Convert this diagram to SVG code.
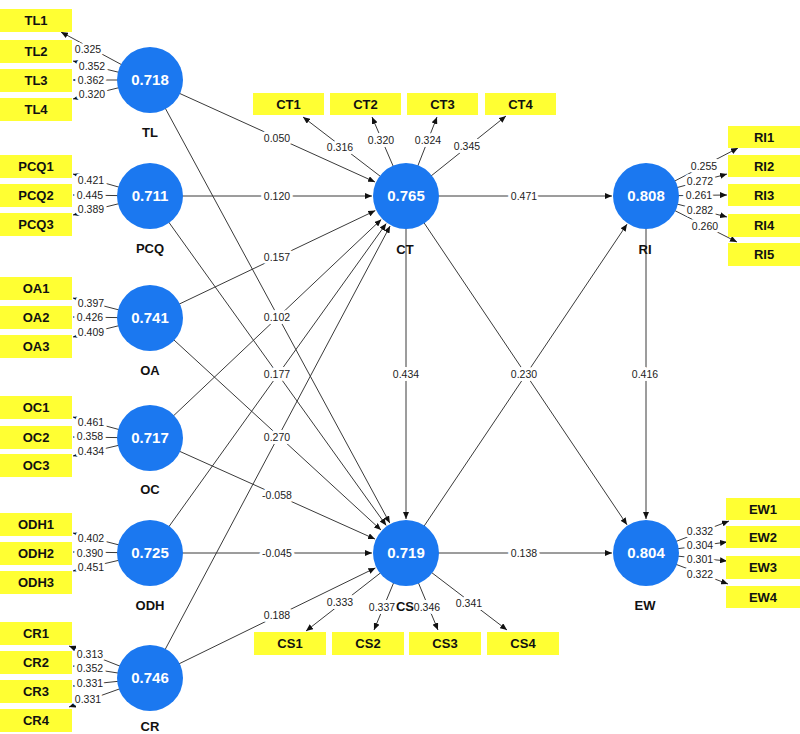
<svg xmlns="http://www.w3.org/2000/svg" width="800" height="734" viewBox="0 0 800 734">
<style>
.bg{fill:#fff}
.ln{stroke:#3a3a3a;stroke-width:1;fill:none;marker-end:url(#ah)}
.lbl{font-family:"Liberation Sans",Arial,sans-serif;font-size:10.5px;fill:#222;text-anchor:middle;stroke:#fff;stroke-width:6;stroke-linejoin:round;paint-order:stroke}
.box{fill:#FFFF33}
.bt{font-family:"Liberation Sans",Arial,sans-serif;font-size:13px;font-weight:bold;fill:#111;text-anchor:middle}
.lv{fill:#1B78F0}
.lvt{font-family:"Liberation Sans",Arial,sans-serif;font-size:15px;font-weight:bold;fill:#fff;text-anchor:middle}
.nm{font-family:"Liberation Sans",Arial,sans-serif;font-size:13px;font-weight:bold;fill:#111;text-anchor:middle}
</style>
<defs>
<marker id="ah" markerWidth="7" markerHeight="6" refX="7" refY="3" orient="auto" markerUnits="userSpaceOnUse"><path d="M0,0 L7,3 L0,6 z" fill="#111"/></marker>
</defs>
<rect class="bg" x="0" y="0" width="800" height="734"/>
<g id="connectors">
<!-- outer loadings -->
<line class="ln" x1="150" y1="80" x2="61" y2="32"/>
<line class="ln" x1="150" y1="80" x2="73" y2="61"/>
<line class="ln" x1="150" y1="80" x2="73" y2="80"/>
<line class="ln" x1="150" y1="80" x2="73" y2="99"/>
<line class="ln" x1="150" y1="196" x2="73" y2="174"/>
<line class="ln" x1="150" y1="196" x2="73" y2="195"/>
<line class="ln" x1="150" y1="196" x2="73" y2="215"/>
<line class="ln" x1="150" y1="318" x2="73" y2="298"/>
<line class="ln" x1="150" y1="318" x2="73" y2="317"/>
<line class="ln" x1="150" y1="318" x2="73" y2="337"/>
<line class="ln" x1="150" y1="438" x2="73" y2="417"/>
<line class="ln" x1="150" y1="438" x2="73" y2="437"/>
<line class="ln" x1="150" y1="438" x2="73" y2="456"/>
<line class="ln" x1="150" y1="553" x2="73" y2="533"/>
<line class="ln" x1="150" y1="553" x2="73" y2="552"/>
<line class="ln" x1="150" y1="553" x2="73" y2="571"/>
<line class="ln" x1="150" y1="678" x2="69" y2="646"/>
<line class="ln" x1="150" y1="678" x2="73" y2="666"/>
<line class="ln" x1="150" y1="678" x2="73" y2="686"/>
<line class="ln" x1="150" y1="678" x2="69" y2="707"/>
<line class="ln" x1="406" y1="196" x2="303" y2="117"/>
<line class="ln" x1="406" y1="196" x2="372" y2="117"/>
<line class="ln" x1="406" y1="196" x2="437" y2="117"/>
<line class="ln" x1="406" y1="196" x2="506" y2="116"/>
<line class="ln" x1="646" y1="196" x2="738" y2="148"/>
<line class="ln" x1="646" y1="196" x2="727" y2="174"/>
<line class="ln" x1="646" y1="196" x2="727" y2="195"/>
<line class="ln" x1="646" y1="196" x2="727" y2="217"/>
<line class="ln" x1="646" y1="196" x2="737" y2="242"/>
<line class="ln" x1="646" y1="553" x2="729" y2="521"/>
<line class="ln" x1="646" y1="553" x2="727" y2="542"/>
<line class="ln" x1="646" y1="553" x2="727" y2="561"/>
<line class="ln" x1="646" y1="553" x2="728" y2="584"/>
<line class="ln" x1="406" y1="553" x2="306" y2="631"/>
<line class="ln" x1="406" y1="553" x2="374" y2="630"/>
<line class="ln" x1="406" y1="553" x2="438" y2="630"/>
<line class="ln" x1="406" y1="553" x2="507" y2="630"/>
<!-- structural paths -->
<line class="ln" x1="150" y1="80" x2="375" y2="182"/>
<line class="ln" x1="150" y1="196" x2="372" y2="196"/>
<line class="ln" x1="150" y1="318" x2="375.3" y2="210.6"/>
<line class="ln" x1="150" y1="438" x2="381.3" y2="219.4"/>
<line class="ln" x1="150" y1="553" x2="386.2" y2="223.6"/>
<line class="ln" x1="150" y1="678" x2="390.1" y2="226"/>
<line class="ln" x1="150" y1="80" x2="389.8" y2="523.1"/>
<line class="ln" x1="150" y1="196" x2="386.2" y2="525.4"/>
<line class="ln" x1="150" y1="318" x2="381" y2="530"/>
<line class="ln" x1="150" y1="438" x2="375" y2="539.1"/>
<line class="ln" x1="150" y1="553" x2="372" y2="553"/>
<line class="ln" x1="150" y1="678" x2="375.4" y2="567.9"/>
<line class="ln" x1="406" y1="196" x2="612" y2="196"/>
<line class="ln" x1="406" y1="196" x2="406" y2="519"/>
<line class="ln" x1="406" y1="196" x2="627" y2="524.8"/>
<line class="ln" x1="406" y1="553" x2="627" y2="224.2"/>
<line class="ln" x1="646" y1="196" x2="646" y2="519"/>
<line class="ln" x1="406" y1="553" x2="612" y2="553"/>
<!-- labels -->
<text class="lbl" x="88" y="52.5">0.325</text>
<text class="lbl" x="92" y="69.5">0.352</text>
<text class="lbl" x="91" y="83.5">0.362</text>
<text class="lbl" x="92" y="97.5">0.320</text>
<text class="lbl" x="91" y="183.5">0.421</text>
<text class="lbl" x="90" y="198.5">0.445</text>
<text class="lbl" x="91" y="212.5">0.389</text>
<text class="lbl" x="91" y="306.5">0.397</text>
<text class="lbl" x="90" y="320.5">0.426</text>
<text class="lbl" x="91" y="335.5">0.409</text>
<text class="lbl" x="91" y="425.5">0.461</text>
<text class="lbl" x="90" y="439.5">0.358</text>
<text class="lbl" x="91" y="454.5">0.434</text>
<text class="lbl" x="91" y="541.5">0.402</text>
<text class="lbl" x="90" y="556.5">0.390</text>
<text class="lbl" x="91" y="570.5">0.451</text>
<text class="lbl" x="90" y="657.5">0.313</text>
<text class="lbl" x="90" y="671.5">0.352</text>
<text class="lbl" x="90" y="686.5">0.331</text>
<text class="lbl" x="88" y="702.5">0.331</text>
<text class="lbl" x="340" y="150.5">0.316</text>
<text class="lbl" x="381" y="143.5">0.320</text>
<text class="lbl" x="428" y="143.5">0.324</text>
<text class="lbl" x="467" y="149.5">0.345</text>
<text class="lbl" x="704" y="169.5">0.255</text>
<text class="lbl" x="700" y="184.5">0.272</text>
<text class="lbl" x="699" y="198.5">0.261</text>
<text class="lbl" x="700" y="213.5">0.282</text>
<text class="lbl" x="705" y="229.5">0.260</text>
<text class="lbl" x="700" y="534.5">0.332</text>
<text class="lbl" x="700" y="548.5">0.304</text>
<text class="lbl" x="700" y="562.5">0.301</text>
<text class="lbl" x="700" y="577.5">0.322</text>
<text class="lbl" x="340" y="605.5">0.333</text>
<text class="lbl" x="382" y="610.5">0.337</text>
<text class="lbl" x="427" y="610.5">0.346</text>
<text class="lbl" x="469" y="606.5">0.341</text>
<text class="lbl" x="277" y="141.5">0.050</text>
<text class="lbl" x="277" y="199.5">0.120</text>
<text class="lbl" x="277" y="260.5">0.157</text>
<text class="lbl" x="277" y="320.5">0.102</text>
<text class="lbl" x="277" y="378">0.177</text>
<text class="lbl" x="277" y="440.5">0.270</text>
<text class="lbl" x="277" y="499">-0.058</text>
<text class="lbl" x="277" y="556.5">-0.045</text>
<text class="lbl" x="277" y="619">0.188</text>
<text class="lbl" x="524" y="199.5">0.471</text>
<text class="lbl" x="406" y="378">0.434</text>
<text class="lbl" x="524" y="378">0.230</text>
<text class="lbl" x="645" y="378">0.416</text>
<text class="lbl" x="524" y="556.5">0.138</text>
</g>
<!-- latent variables -->
<g id="TL"><circle class="lv" cx="150" cy="80" r="33"/><text class="lvt" x="150" y="85">0.718</text><text class="nm" x="150" y="137">TL</text></g>
<g id="PCQ"><circle class="lv" cx="150" cy="196" r="33"/><text class="lvt" x="150" y="201">0.711</text><text class="nm" x="150" y="253">PCQ</text></g>
<g id="OA"><circle class="lv" cx="150" cy="318" r="33"/><text class="lvt" x="150" y="323">0.741</text><text class="nm" x="150" y="375">OA</text></g>
<g id="OC"><circle class="lv" cx="150" cy="438" r="33"/><text class="lvt" x="150" y="443">0.717</text><text class="nm" x="150" y="494">OC</text></g>
<g id="ODH"><circle class="lv" cx="150" cy="553" r="33"/><text class="lvt" x="150" y="558">0.725</text><text class="nm" x="150" y="610">ODH</text></g>
<g id="CR"><circle class="lv" cx="150" cy="678" r="33"/><text class="lvt" x="150" y="683">0.746</text><text class="nm" x="150" y="731">CR</text></g>
<g id="CT"><circle class="lv" cx="406" cy="196" r="33"/><text class="lvt" x="406" y="201">0.765</text><text class="nm" x="405" y="254">CT</text></g>
<g id="CS"><circle class="lv" cx="406" cy="553" r="33"/><text class="lvt" x="406" y="558">0.719</text><text class="nm" x="405" y="611">CS</text></g>
<g id="RI"><circle class="lv" cx="646" cy="196" r="33"/><text class="lvt" x="646" y="201">0.808</text><text class="nm" x="645" y="254">RI</text></g>
<g id="EW"><circle class="lv" cx="646" cy="553" r="33"/><text class="lvt" x="646" y="558">0.804</text><text class="nm" x="645" y="610">EW</text></g>
<!-- indicators -->
<g id="TL1"><rect class="box" x="0" y="9" width="72" height="23"/><text class="bt" x="36" y="25">TL1</text></g>
<g id="TL2"><rect class="box" x="0" y="40" width="72" height="23"/><text class="bt" x="36" y="56">TL2</text></g>
<g id="TL3"><rect class="box" x="0" y="69" width="72" height="23"/><text class="bt" x="36" y="85">TL3</text></g>
<g id="TL4"><rect class="box" x="0" y="98" width="72" height="23"/><text class="bt" x="36" y="114">TL4</text></g>
<g id="PCQ1"><rect class="box" x="0" y="155" width="72" height="23"/><text class="bt" x="36" y="171">PCQ1</text></g>
<g id="PCQ2"><rect class="box" x="0" y="184" width="72" height="23"/><text class="bt" x="36" y="200">PCQ2</text></g>
<g id="PCQ3"><rect class="box" x="0" y="213" width="72" height="23"/><text class="bt" x="36" y="229">PCQ3</text></g>
<g id="OA1"><rect class="box" x="0" y="277" width="72" height="23"/><text class="bt" x="36" y="293">OA1</text></g>
<g id="OA2"><rect class="box" x="0" y="306" width="72" height="23"/><text class="bt" x="36" y="322">OA2</text></g>
<g id="OA3"><rect class="box" x="0" y="335" width="72" height="23"/><text class="bt" x="36" y="351">OA3</text></g>
<g id="OC1"><rect class="box" x="0" y="396" width="72" height="23"/><text class="bt" x="36" y="412">OC1</text></g>
<g id="OC2"><rect class="box" x="0" y="426" width="72" height="23"/><text class="bt" x="36" y="442">OC2</text></g>
<g id="OC3"><rect class="box" x="0" y="454" width="72" height="23"/><text class="bt" x="36" y="470">OC3</text></g>
<g id="ODH1"><rect class="box" x="0" y="513" width="72" height="23"/><text class="bt" x="36" y="529">ODH1</text></g>
<g id="ODH2"><rect class="box" x="0" y="542" width="72" height="23"/><text class="bt" x="36" y="558">ODH2</text></g>
<g id="ODH3"><rect class="box" x="0" y="571" width="72" height="23"/><text class="bt" x="36" y="587">ODH3</text></g>
<g id="CR1"><rect class="box" x="0" y="622" width="72" height="23"/><text class="bt" x="36" y="638">CR1</text></g>
<g id="CR2"><rect class="box" x="0" y="651" width="72" height="23"/><text class="bt" x="36" y="667">CR2</text></g>
<g id="CR3"><rect class="box" x="0" y="680" width="72" height="23"/><text class="bt" x="36" y="696">CR3</text></g>
<g id="CR4"><rect class="box" x="0" y="709" width="72" height="23"/><text class="bt" x="36" y="725">CR4</text></g>
<g id="CT1"><rect class="box" x="253" y="93" width="71" height="22"/><text class="bt" x="288.5" y="108.5">CT1</text></g>
<g id="CT2"><rect class="box" x="330" y="93" width="71" height="22"/><text class="bt" x="365.5" y="108.5">CT2</text></g>
<g id="CT3"><rect class="box" x="407" y="93" width="71" height="22"/><text class="bt" x="442.5" y="108.5">CT3</text></g>
<g id="CT4"><rect class="box" x="485" y="93" width="71" height="22"/><text class="bt" x="520.5" y="108.5">CT4</text></g>
<g id="CS1"><rect class="box" x="254" y="632" width="72" height="23"/><text class="bt" x="290" y="648">CS1</text></g>
<g id="CS2"><rect class="box" x="332" y="632" width="72" height="23"/><text class="bt" x="368" y="648">CS2</text></g>
<g id="CS3"><rect class="box" x="409" y="632" width="72" height="23"/><text class="bt" x="445" y="648">CS3</text></g>
<g id="CS4"><rect class="box" x="487" y="632" width="72" height="23"/><text class="bt" x="523" y="648">CS4</text></g>
<g id="RI1"><rect class="box" x="728" y="126" width="72" height="22"/><text class="bt" x="764" y="141.5">RI1</text></g>
<g id="RI2"><rect class="box" x="728" y="155" width="72" height="22"/><text class="bt" x="764" y="170.5">RI2</text></g>
<g id="RI3"><rect class="box" x="728" y="184" width="72" height="22"/><text class="bt" x="764" y="199.5">RI3</text></g>
<g id="RI4"><rect class="box" x="728" y="214" width="72" height="23"/><text class="bt" x="764" y="230">RI4</text></g>
<g id="RI5"><rect class="box" x="728" y="243" width="72" height="23"/><text class="bt" x="764" y="259">RI5</text></g>
<g id="EW1"><rect class="box" x="726" y="498" width="74" height="22"/><text class="bt" x="763" y="513.5">EW1</text></g>
<g id="EW2"><rect class="box" x="726" y="526" width="74" height="22"/><text class="bt" x="763" y="541.5">EW2</text></g>
<g id="EW3"><rect class="box" x="726" y="556" width="74" height="23"/><text class="bt" x="763" y="572">EW3</text></g>
<g id="EW4"><rect class="box" x="726" y="586" width="74" height="22"/><text class="bt" x="763" y="601.5">EW4</text></g>
</svg>
